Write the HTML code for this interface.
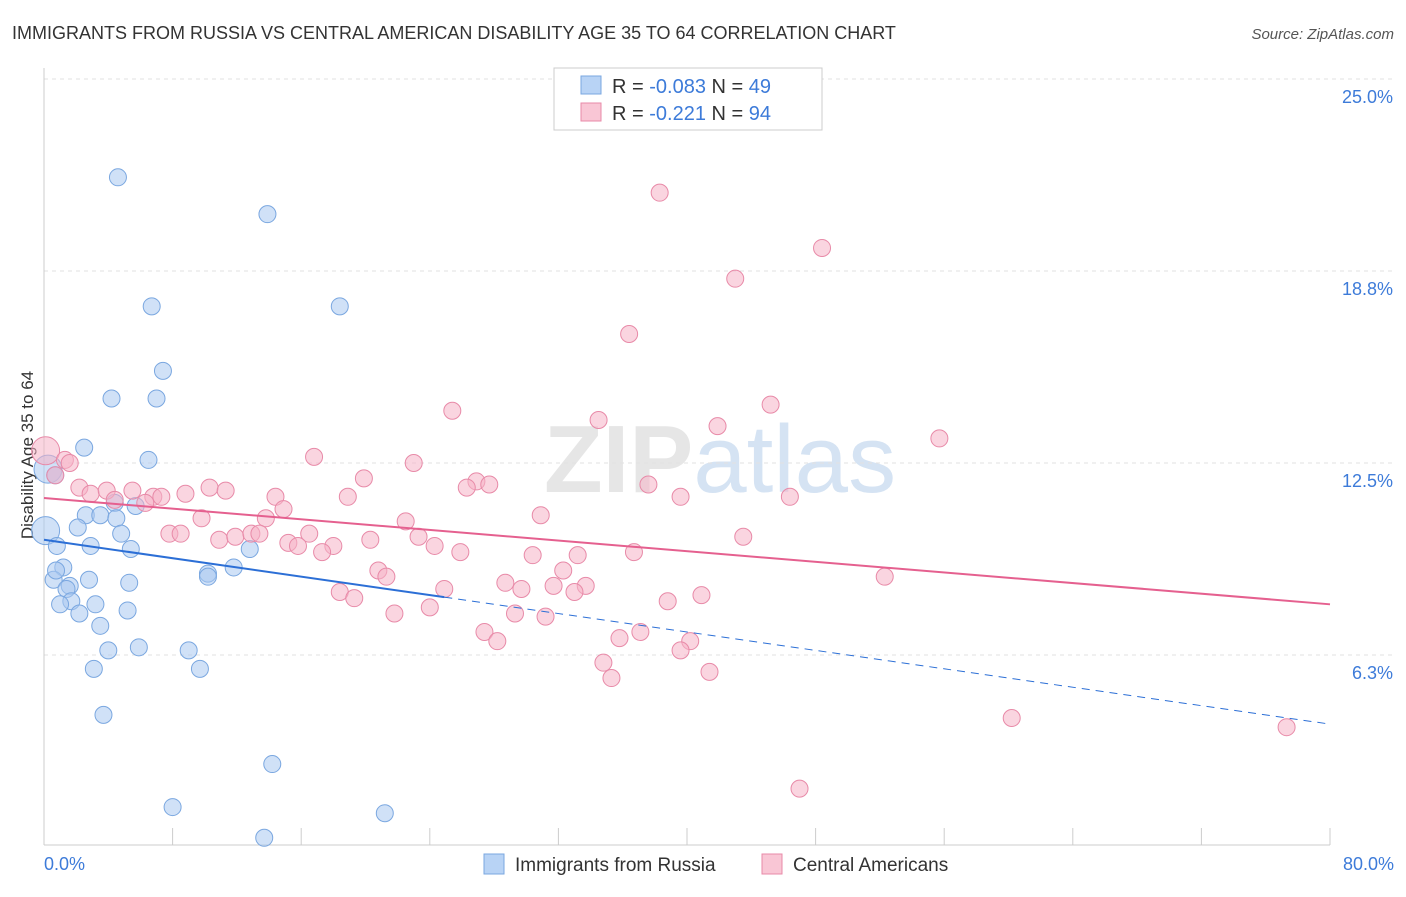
<!DOCTYPE html>
<html><head><meta charset="utf-8"><style>
body{margin:0;background:#fff;font-family:"Liberation Sans",sans-serif;}
svg text{font-family:"Liberation Sans",sans-serif;}
</style></head><body>
<svg id="chart" width="1406" height="892" xmlns="http://www.w3.org/2000/svg">
<text x="12" y="39" font-size="18" fill="#333">IMMIGRANTS FROM RUSSIA VS CENTRAL AMERICAN DISABILITY AGE 35 TO 64 CORRELATION CHART</text>
<text x="1394" y="39" font-size="15" fill="#555" text-anchor="end" font-style="italic">Source: ZipAtlas.com</text>
<text x="720" y="492" font-size="96" text-anchor="middle" fill="#e6e6e6" font-family="Liberation Serif" font-weight="bold">ZIP<tspan fill="#d5e3f3" font-family="Liberation Sans" font-weight="normal">atlas</tspan></text>
<text transform="translate(33,455) rotate(-90)" font-size="17" fill="#333" text-anchor="middle">Disability Age 35 to 64</text>
<g id="grid"></g><g id="ticks"></g><g id="marks"></g>
<g>
<rect x="554" y="68" width="268" height="62" fill="#fff" stroke="#ccc"/>
<rect x="581" y="76" width="20" height="18" fill="#b8d3f5" stroke="#7aa7e0"/>
<text x="612" y="93" font-size="20" fill="#333">R = <tspan fill="#3d7bd9">-0.083</tspan>   N = <tspan fill="#3d7bd9">49</tspan></text>
<rect x="581" y="103" width="20" height="18" fill="#f9c6d5" stroke="#e88aa8"/>
<text x="612" y="120" font-size="20" fill="#333">R =  <tspan fill="#3d7bd9">-0.221</tspan>   N = <tspan fill="#3d7bd9">94</tspan></text>
</g>
<g>
<rect x="484" y="854" width="20" height="20" fill="#b8d3f5" stroke="#7aa7e0"/>
<text x="515" y="871" font-size="19" fill="#333">Immigrants from Russia</text>
<rect x="762" y="854" width="20" height="20" fill="#f9c6d5" stroke="#e88aa8"/>
<text x="793" y="871" font-size="19" fill="#333">Central Americans</text>
</g>
</svg>
<script>
const yTicks=[6.25,12.5,18.75,25];
const yTickLabels=["6.3%","12.5%","18.8%","25.0%"];
const xTickVals=[0,8,16,24,32,40,48,56,64,72,80];
const xEndLabels=["0.0%","80.0%"];
const blueX=[4.6,13.9,6.7,18.4,7.4,4.2,7.0,2.5,6.5,0.25,0.7,4.4,5.7,2.6,3.5,4.5,2.1,0.1,4.8,0.8,2.9,5.4,12.8,11.8,10.2,10.2,1.2,0.6,2.8,5.3,1.6,1.4,3.2,1.7,1.0,5.2,2.2,3.5,4.0,5.9,9.0,3.1,9.7,3.7,14.2,8.0,21.2,13.7,0.75];
const blueY=[21.8,20.6,17.6,17.6,15.5,14.6,14.6,13.0,12.6,12.3,12.1,11.2,11.1,10.8,10.8,10.7,10.4,10.3,10.2,9.8,9.8,9.7,9.7,9.1,8.9,8.8,9.1,8.7,8.7,8.6,8.5,8.4,7.9,8.0,7.9,7.7,7.6,7.2,6.4,6.5,6.4,5.8,5.8,4.3,2.7,1.3,1.1,0.3,9.0];
const pinkX=[38.3,48.4,43.0,36.4,45.2,25.4,34.5,41.9,55.7,0.1,1.3,1.6,16.8,23.0,19.9,26.9,27.7,26.3,37.6,2.2,2.9,3.9,5.5,8.8,10.3,11.3,6.8,7.3,14.4,18.9,39.6,46.4,4.4,6.3,14.9,9.8,30.9,22.5,13.8,7.8,8.5,10.9,11.9,12.9,13.4,16.5,20.3,23.3,15.2,15.8,18.0,43.5,24.3,17.3,25.9,30.4,36.7,33.2,20.8,21.3,32.3,28.7,29.7,31.7,33.7,33.0,18.4,19.3,24.9,40.9,38.8,52.3,24.0,21.8,29.3,31.2,27.4,37.1,35.8,28.2,40.2,39.6,34.8,35.3,41.4,60.2,77.3,47.0,0.7];
const pinkY=[21.3,19.5,18.5,16.7,14.4,14.2,13.9,13.7,13.3,12.9,12.6,12.5,12.7,12.5,12.0,11.9,11.8,11.7,11.8,11.7,11.5,11.6,11.6,11.5,11.7,11.6,11.4,11.4,11.4,11.4,11.4,11.4,11.3,11.2,11.0,10.7,10.8,10.6,10.7,10.2,10.2,10.0,10.1,10.2,10.2,10.2,10.0,10.1,9.9,9.8,9.8,10.1,9.8,9.6,9.6,9.5,9.6,9.5,9.0,8.8,9.0,8.6,8.4,8.5,8.5,8.3,8.3,8.1,8.4,8.2,8.0,8.8,7.8,7.6,7.6,7.5,7.0,7.0,6.8,6.7,6.7,6.4,6.0,5.5,5.7,4.2,3.9,1.9,12.1];
const blueTrend=[10.0,4.0];
const blueSolidEnd=24.9;
const pinkTrend=[11.36,7.9];
const xs=v=>44+v*(1286/80);
const ys=v=>847-v*30.72;
const NS="http://www.w3.org/2000/svg";
function mk(tag,attrs,parent){const e=document.createElementNS(NS,tag);for(const k in attrs)e.setAttribute(k,attrs[k]);parent.appendChild(e);return e;}
const grid=document.getElementById('grid'),ticks=document.getElementById('ticks'),marks=document.getElementById('marks');
yTicks.forEach((t,i)=>{
 const l=mk('line',{x1:44,x2:1394,y1:ys(t),y2:ys(t),stroke:'#e2e2e2','stroke-dasharray':'4,4'},grid);
 
 
 const tx=mk('text',{x:1393,y:ys(t)+24,'font-size':18,fill:'#3d7bd9','text-anchor':'end'},ticks);
 tx.textContent=yTickLabels[i];
 
 
});
const ax=mk('line',{x1:44,x2:44,y1:68,y2:845,stroke:'#ccc'},grid);


const bx=mk('line',{x1:44,x2:1330,y1:845,y2:845,stroke:'#ccc'},grid);


xTickVals.forEach(v=>{
 const t=mk('line',{x1:xs(v),x2:xs(v),y1:828,y2:845,stroke:'#ccc'},ticks);
 
 
});
[[0,'start',44],[80,'end',1394]].forEach((a,i)=>{
 const t=mk('text',{x:a[2],y:870,'font-size':18,fill:'#3d7bd9','text-anchor':a[1]},ticks);
 t.textContent=xEndLabels[i];
 
 
});
function pts(X,Y,fill,stroke,name){
 X.forEach((x,i)=>{
  const r=(x<0.3)?14:8.5;
  const c=mk('circle',{cx:xs(x),cy:ys(Y[i]),r:r,fill:fill,'fill-opacity':0.55,stroke:stroke,'stroke-width':1},marks);
  
  
 });
}
pts(blueX,blueY,'#a9c8f0','#7aa7e0','russia-point');
pts(pinkX,pinkY,'#f6b3c7','#e88aa8','central-american-point');
const bAt=x=>blueTrend[0]+(blueTrend[1]-blueTrend[0])*x/80;
const l1=mk('line',{x1:xs(0),y1:ys(blueTrend[0]),x2:xs(blueSolidEnd),y2:ys(bAt(blueSolidEnd)),stroke:'#2c6fd6','stroke-width':2},marks);


const l2=mk('line',{x1:xs(blueSolidEnd),y1:ys(bAt(blueSolidEnd)),x2:xs(80),y2:ys(blueTrend[1]),stroke:'#2c6fd6','stroke-width':1,'stroke-dasharray':'8,6'},marks);


const l3=mk('line',{x1:xs(0),y1:ys(pinkTrend[0]),x2:xs(80),y2:ys(pinkTrend[1]),stroke:'#e5608f','stroke-width':2},marks);


</script>
</body></html>
